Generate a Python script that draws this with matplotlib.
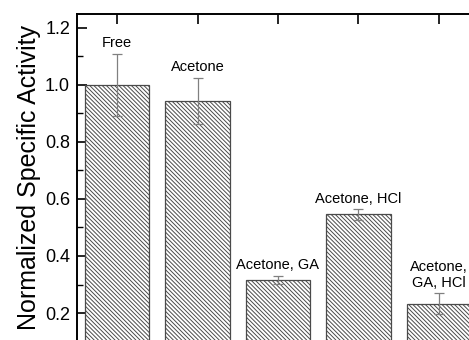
import matplotlib
matplotlib.use("Agg")
import matplotlib.pyplot as plt
from matplotlib.ticker import MultipleLocator

plt.rcParams['font.family'] = ['Liberation Sans', 'DejaVu Sans']
plt.rcParams['hatch.color'] = '#707070'
plt.rcParams['hatch.linewidth'] = 0.7

categories = ["Free", "Acetone", "Acetone, GA", "Acetone, HCl", "Acetone,\nGA, HCl"]
values = [1.0, 0.944, 0.316, 0.546, 0.232]
errors = [0.11, 0.082, 0.014, 0.018, 0.037]
positions = [1, 2, 3, 4, 5]

fig = plt.figure(figsize=(4.69, 3.40), dpi=100)
ax = fig.add_axes([77/469, -1.5/340, 402/469, 327.75/340])

ax.bar(positions, values, width=0.8, color='white', edgecolor='#4a4a4a',
       linewidth=0.9, hatch='\\' * 8, zorder=2)
ax.errorbar(positions, values, yerr=errors, fmt='none', ecolor='#808080',
            elinewidth=0.9, capsize=3.5, capthick=0.9, zorder=3)

for x, v, e, lab in zip(positions, values, errors, categories):
    ax.annotate(lab, xy=(x, v + e), xytext=(0, 2.5), textcoords='offset points',
                ha='center', va='bottom', fontsize=10.5, linespacing=1.15)

ax.set_xlim(0.5, 5.5)
ax.set_ylim(0.1, 1.25)
ax.yaxis.set_major_locator(MultipleLocator(0.2))
ax.yaxis.set_minor_locator(MultipleLocator(0.1))
ax.set_xticks(positions)
ax.set_xticklabels([])
ax.tick_params(axis='y', which='major', direction='in', length=7, width=1.2,
               labelsize=13, pad=5, left=True, right=False)
ax.tick_params(axis='y', which='minor', direction='in', length=4, width=1.0)
ax.tick_params(axis='x', which='major', direction='in', length=7, width=1.2,
               top=True, bottom=True)
for s in ax.spines.values():
    s.set_linewidth(1.4)
ax.set_ylabel("Normalized Specific Activity", fontsize=18, labelpad=3)

fig.savefig("out.png", dpi=100)
